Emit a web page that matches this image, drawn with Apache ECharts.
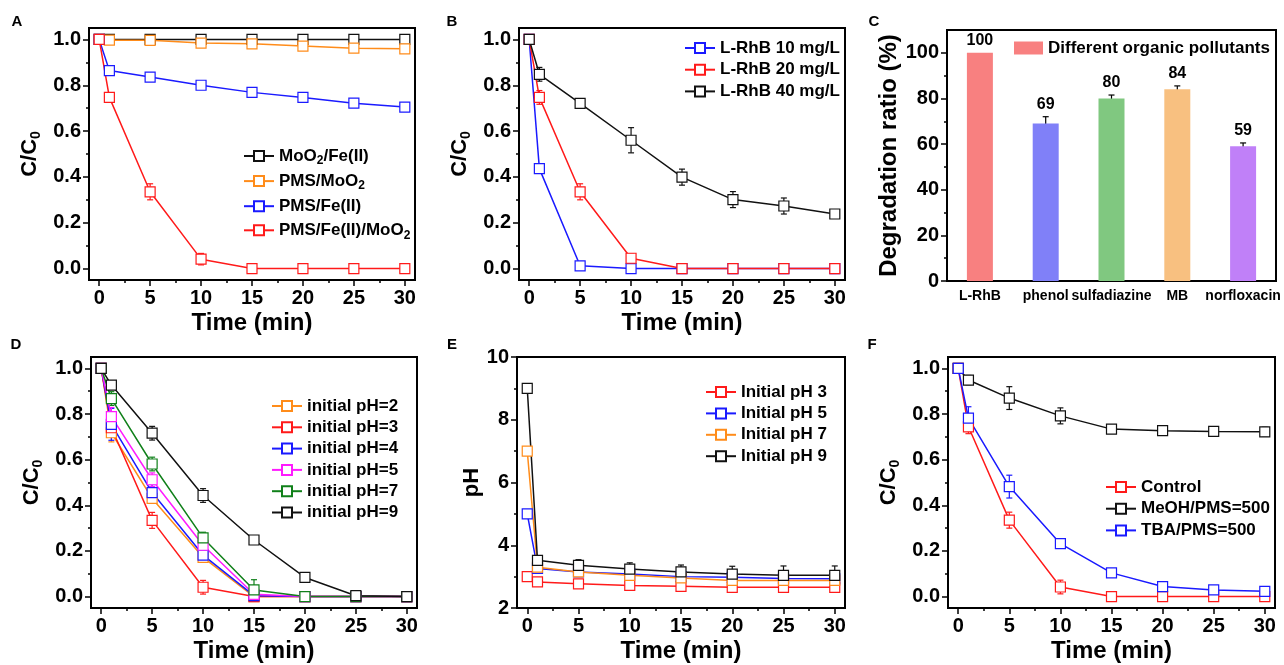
<!DOCTYPE html>
<html>
<head>
<meta charset="utf-8">
<script src="https://cdn.jsdelivr.net/npm/echarts@6/dist/echarts.min.js"></script>
<style>
  html, body { margin: 0; padding: 0; background: #fff; }
  #chart { width: 1284px; height: 665px; }
</style>
</head>
<body>
<div id="chart"></div>
<script>
var FONT = '"Liberation Sans", Arial, sans-serif';

// sampling times (min)
var timeMin = [0, 1, 5, 10, 15, 20, 25, 30];
var xMajors = [0, 5, 10, 15, 20, 25, 30];
var xMinors = [2.5, 7.5, 12.5, 17.5, 22.5, 27.5];
var cMajors = [0, 0.2, 0.4, 0.6, 0.8, 1.0];
var cMinors = [0.1, 0.3, 0.5, 0.7, 0.9];

// A: control experiments
var aMoFe = [1, 1, 1, 1, 1, 1, 1, 1];
var aPmsMo = [1, 0.997, 0.996, 0.984, 0.981, 0.971, 0.962, 0.959];
var aPmsFe = [1, 0.864, 0.836, 0.800, 0.769, 0.747, 0.722, 0.705];
var aPmsFeMo = [1, 0.747, 0.335, 0.041, 0, 0, 0, 0];
var aErrPmsMo = [0, 0.012, 0.012, 0.012, 0.012, 0.012, 0.012, 0.012];
var aErrPmsFe = [0, 0.01, 0.01, 0.012, 0.01, 0.015, 0.01, 0.015];
var aErrPmsFeMo = [0, 0.02, 0.035, 0.025, 0, 0, 0, 0];

// B: L-RhB concentration
var b10 = [1, 0.436, 0.012, 0, 0, 0, 0, 0];
var b20 = [1, 0.747, 0.335, 0.045, 0, 0, 0, 0];
var b40 = [1, 0.848, 0.721, 0.560, 0.399, 0.301, 0.273, 0.238];
var bErr10 = [0, 0.012, 0.008, 0, 0, 0, 0, 0];
var bErr20 = [0, 0.03, 0.035, 0.02, 0, 0, 0, 0];
var bErr40 = [0, 0.03, 0.015, 0.055, 0.035, 0.035, 0.035, 0.015];

// C: different pollutants
var cNames = ['L-RhB', 'phenol', 'sulfadiazine', 'MB', 'norfloxacin'];
var cRatio = [100, 69, 80, 84, 59];
var cErr = [0, 3, 1.5, 1.5, 1.5];
var yMajorsC = [0, 20, 40, 60, 80, 100];
var yMinorsC = [10, 30, 50, 70, 90];

// D: initial pH vs C/C0
var dPh2 = [1, 0.718, 0.430, 0.172, 0, 0, 0, 0];
var dPh3 = [1, 0.740, 0.334, 0.041, 0, 0, 0, 0];
var dPh4 = [1, 0.755, 0.456, 0.182, 0.004, 0, 0, 0];
var dPh5 = [1, 0.789, 0.512, 0.225, 0.01, 0, 0, 0];
var dPh7 = [1, 0.868, 0.581, 0.257, 0.029, 0, 0, 0];
var dPh9 = [1, 0.927, 0.716, 0.443, 0.248, 0.084, 0.004, 0];
var dErr2 = [0, 0.04, 0.02, 0.02, 0, 0, 0, 0];
var dErr3 = [0, 0.02, 0.035, 0.03, 0, 0, 0, 0];
var dErr4 = [0, 0.07, 0.035, 0.02, 0, 0, 0, 0];
var dErr5 = [0, 0.04, 0.03, 0.03, 0, 0, 0, 0];
var dErr7 = [0, 0.03, 0.03, 0.025, 0.045, 0, 0, 0];
var dErr9 = [0, 0.015, 0.03, 0.03, 0.015, 0.015, 0.01, 0];

// E: pH evolution
var yMajorsE = [2, 4, 6, 8, 10];
var yMinorsE = [3, 5, 7, 9];
var ePh3 = [3.0, 2.83, 2.77, 2.72, 2.69, 2.66, 2.66, 2.66];
var ePh5 = [5.0, 3.26, 3.15, 3.08, 3.00, 2.98, 2.94, 2.93];
var ePh7 = [7.0, 3.30, 3.15, 3.04, 2.96, 2.88, 2.88, 2.88];
var ePh9 = [9.0, 3.52, 3.36, 3.24, 3.15, 3.08, 3.04, 3.04];
var eErr3 = [0.08, 0.08, 0.08, 0.08, 0.08, 0.08, 0.08, 0.08];
var eErr5 = [0.08, 0.08, 0.08, 0.08, 0.08, 0.08, 0.08, 0.08];
var eErr7 = [0.1, 0.1, 0.1, 0.1, 0.1, 0.1, 0.15, 0.15];
var eErr9 = [0.1, 0.1, 0.18, 0.2, 0.22, 0.25, 0.3, 0.3];

// F: quenching
var fControl = [1, 0.744, 0.335, 0.042, 0, 0, 0, 0];
var fMeoh = [1, 0.949, 0.870, 0.792, 0.734, 0.727, 0.724, 0.722];
var fTba = [1, 0.782, 0.482, 0.232, 0.104, 0.044, 0.029, 0.023];
var fErrControl = [0, 0.03, 0.035, 0.03, 0, 0, 0, 0];
var fErrMeoh = [0, 0.02, 0.05, 0.035, 0.01, 0.01, 0.01, 0.02];
var fErrTba = [0, 0.05, 0.05, 0.01, 0.015, 0.015, 0.015, 0.01];

var BLACK = '#111', ORANGE = '#FF8C1A', BLUE = '#1A1AFF', RED = '#FF1A1A',
    MAGENTA = '#FF1AFF', GREEN = '#10801A';
var barColors = ['#F88080', '#8080F8', '#80C880', '#F8C080', '#C080F8'];

var grids = [], xAxes = [], yAxes = [], series = [], legends = [];

var boldText = { fontWeight: 'bold', fontFamily: FONT, color: '#000' };
function txt(size, more) {
  return Object.assign({ fontSize: size }, boldText, more || {});
}
var subRich = {
  sub: { fontSize: 12, fontWeight: 'bold', fontFamily: FONT, color: '#000', padding: [10, 0, 0, 0] }
};
var nameSubRich = {
  sub: { fontSize: 14, fontWeight: 'bold', fontFamily: FONT, color: '#000', padding: [12, 0, 0, 0] }
};

function addGrid(left, top, width, height) {
  grids.push({
    left: left, top: top, width: width, height: height,
    show: true, borderColor: '#000', borderWidth: 2, backgroundColor: 'transparent',
    containLabel: false, outerBoundsMode: 'none'
  });
  return grids.length - 1;
}

// major axis (line, labels, long ticks) plus a bare axis for the short minor ticks
function axisPair(list, gi, isX, min, max, majors, minors, digits, extra) {
  var pos = isX ? 'bottom' : 'left';
  var major = Object.assign({
    type: 'value', gridIndex: gi, min: min, max: max, position: pos,
    splitLine: { show: false },
    axisLine: { show: true, onZero: false, lineStyle: { color: '#000', width: 2 } },
    axisTick: { show: true, inside: false, length: 6, customValues: majors,
      lineStyle: { color: '#000', width: 1.5 } },
    axisLabel: Object.assign({ show: true, customValues: majors, margin: 8,
      formatter: function (v) { return Number(v).toFixed(digits); } }, txt(20))
  }, extra || {});
  var minor = {
    type: 'value', gridIndex: gi, min: min, max: max, position: pos,
    splitLine: { show: false },
    axisLine: { show: false, onZero: false },
    axisTick: { show: true, inside: false, length: 3, customValues: minors,
      lineStyle: { color: '#000', width: 1.5 } },
    axisLabel: { show: false }
  };
  list.push(major, minor);
  return list.length - 2;
}

function errSeries(xi, yi, color, xs, ys, es) {
  return {
    type: 'custom', xAxisIndex: xi, yAxisIndex: yi, silent: true, clip: false,
    itemStyle: { color: color }, encode: { x: 0, y: 1 },
    data: xs.map(function (x, i) { return [x, ys[i], es[i]]; }),
    renderItem: function (params, api) {
      var e = api.value(2);
      if (!e) return null;
      var x = api.value(0), y = api.value(1);
      var lo = api.coord([x, y - e]), hi = api.coord([x, y + e]);
      var w = 3, st = { stroke: color, lineWidth: 1.2 };
      return { type: 'group', children: [
        { type: 'line', shape: { x1: lo[0], y1: lo[1], x2: hi[0], y2: hi[1] }, style: st },
        { type: 'line', shape: { x1: lo[0] - w, y1: lo[1], x2: lo[0] + w, y2: lo[1] }, style: st },
        { type: 'line', shape: { x1: hi[0] - w, y1: hi[1], x2: hi[0] + w, y2: hi[1] }, style: st }
      ] };
    }
  };
}

function linePanel(cfg) {
  var gi = addGrid(cfg.grid[0], cfg.grid[1], cfg.grid[2], cfg.grid[3]);
  var xi = axisPair(xAxes, gi, true, -1, 31, xMajors, xMinors, 0, {
    name: 'Time (min)', nameLocation: 'middle', nameGap: 31, nameTextStyle: txt(24)
  });
  var yi = axisPair(yAxes, gi, false, cfg.yRange[0], cfg.yRange[1], cfg.yMajors, cfg.yMinors, cfg.yDigits, {
    name: cfg.yName, nameLocation: 'middle', nameGap: cfg.yNameGap,
    nameTextStyle: txt(22, { rich: nameSubRich })
  });
  cfg.lines.forEach(function (ln) {
    series.push({
      type: 'line', name: ln.name, xAxisIndex: xi, yAxisIndex: yi,
      data: timeMin.map(function (t, i) { return [t, ln.ys[i]]; }),
      symbol: 'rect', symbolSize: 10, showAllSymbol: true,
      lineStyle: { color: ln.color, width: 1.5 },
      itemStyle: { color: '#fff', borderColor: ln.color, borderWidth: 1.2 },
      emphasis: { disabled: true }
    });
    if (ln.err) series.push(errSeries(xi, yi, ln.color, timeMin, ln.ys, ln.err));
  });
  legends.push({
    left: cfg.legend[0], top: cfg.legend[1], orient: 'vertical', padding: 0,
    itemWidth: 30, itemHeight: 12.5, itemGap: cfg.legend[2], selectedMode: false,
    data: cfg.lines.map(function (l) { return l.name; }),
    formatter: cfg.legendFmt || function (n) { return n; },
    textStyle: txt(17, { lineHeight: 20, rich: subRich })
  });
}

// A
linePanel({
  grid: [89, 28, 326, 252], yRange: [-0.05, 1.05], yMajors: cMajors, yMinors: cMinors, yDigits: 1,
  yName: 'C/C{sub|0}', yNameGap: 46,
  legend: [243, 146, 4.1],
  legendFmt: function (n) {
    return n.replace('MoO2', 'MoO{sub|2}');
  },
  lines: [
    { name: 'MoO2/Fe(II)', color: BLACK, ys: aMoFe },
    { name: 'PMS/MoO2', color: ORANGE, ys: aPmsMo, err: aErrPmsMo },
    { name: 'PMS/Fe(II)', color: BLUE, ys: aPmsFe, err: aErrPmsFe },
    { name: 'PMS/Fe(II)/MoO2', color: RED, ys: aPmsFeMo, err: aErrPmsFeMo }
  ]
});

// B
linePanel({
  grid: [519, 28, 326, 252], yRange: [-0.05, 1.05], yMajors: cMajors, yMinors: cMinors, yDigits: 1,
  yName: 'C/C{sub|0}', yNameGap: 46,
  legend: [684, 38, 1.7],
  lines: [
    { name: 'L-RhB 10 mg/L', color: BLUE, ys: b10, err: bErr10 },
    { name: 'L-RhB 20 mg/L', color: RED, ys: b20, err: bErr20 },
    { name: 'L-RhB 40 mg/L', color: BLACK, ys: b40, err: bErr40 }
  ]
});

// C
(function () {
  var gi = addGrid(947, 30, 329, 251);
  xAxes.push({
    type: 'category', gridIndex: gi, data: cNames, position: 'bottom',
    axisLine: { show: true, onZero: false, lineStyle: { color: '#000', width: 2 } },
    axisTick: { show: false },
    axisLabel: Object.assign({ interval: 0, margin: 8 }, txt(14)),
    splitLine: { show: false }
  });
  var xi = xAxes.length - 1;
  var yi = axisPair(yAxes, gi, false, 0, 110, yMajorsC, yMinorsC, 0, {
    name: 'Degradation ratio (%)', nameLocation: 'middle', nameGap: 45, nameTextStyle: txt(24)
  });
  series.push({
    type: 'bar', name: 'Different organic pollutants', xAxisIndex: xi, yAxisIndex: yi,
    barWidth: 26, itemStyle: { color: barColors[0] },
    data: cRatio.map(function (v, i) { return { value: v, itemStyle: { color: barColors[i] } }; }),
    emphasis: { disabled: true }
  });
  series.push({
    type: 'custom', xAxisIndex: xi, yAxisIndex: yi, silent: true, clip: false,
    encode: { x: 0, y: 1 },
    data: cRatio.map(function (v, i) { return [i, v, cErr[i]]; }),
    renderItem: function (params, api) {
      var i = api.value(0), v = api.value(1), e = api.value(2);
      var lo = api.coord([i, v - e]), hi = api.coord([i, v + e]);
      var st = { stroke: '#000', lineWidth: 1.2 }, w = 3;
      var kids = [];
      if (e) {
        kids.push(
          { type: 'line', shape: { x1: lo[0], y1: lo[1], x2: hi[0], y2: hi[1] }, style: st },
          { type: 'line', shape: { x1: lo[0] - w, y1: lo[1], x2: lo[0] + w, y2: lo[1] }, style: st },
          { type: 'line', shape: { x1: hi[0] - w, y1: hi[1], x2: hi[0] + w, y2: hi[1] }, style: st }
        );
      }
      kids.push({
        type: 'text', x: hi[0], y: hi[1] - 4,
        style: { text: String(v), textAlign: 'center', textVerticalAlign: 'bottom',
          font: 'bold 16px ' + FONT, fill: '#000' }
      });
      return { type: 'group', children: kids };
    }
  });
  legends.push({
    left: 1014, top: 38, orient: 'vertical', padding: 0, icon: 'rect',
    itemWidth: 29, itemHeight: 13, selectedMode: false,
    data: ['Different organic pollutants'],
    textStyle: txt(17, { lineHeight: 20 })
  });
})();

// D
linePanel({
  grid: [91, 357, 326, 251], yRange: [-0.05, 1.05], yMajors: cMajors, yMinors: cMinors, yDigits: 1,
  yName: 'C/C{sub|0}', yNameGap: 46,
  legend: [271, 396, 1.3],
  lines: [
    { name: 'initial pH=2', color: ORANGE, ys: dPh2, err: dErr2 },
    { name: 'initial pH=3', color: RED, ys: dPh3, err: dErr3 },
    { name: 'initial pH=4', color: BLUE, ys: dPh4, err: dErr4 },
    { name: 'initial pH=5', color: MAGENTA, ys: dPh5, err: dErr5 },
    { name: 'initial pH=7', color: GREEN, ys: dPh7, err: dErr7 },
    { name: 'initial pH=9', color: BLACK, ys: dPh9, err: dErr9 }
  ]
});

// E
linePanel({
  grid: [517, 357, 328, 251], yRange: [2, 10], yMajors: yMajorsE, yMinors: yMinorsE, yDigits: 0,
  yName: 'pH', yNameGap: 25,
  legend: [705, 382, 1.4],
  lines: [
    { name: 'Initial pH 3', color: RED, ys: ePh3, err: eErr3 },
    { name: 'Initial pH 5', color: BLUE, ys: ePh5, err: eErr5 },
    { name: 'Initial pH 7', color: ORANGE, ys: ePh7, err: eErr7 },
    { name: 'Initial pH 9', color: BLACK, ys: ePh9, err: eErr9 }
  ]
});

// F
linePanel({
  grid: [948, 357, 327, 251], yRange: [-0.05, 1.05], yMajors: cMajors, yMinors: cMinors, yDigits: 1,
  yName: 'C/C{sub|0}', yNameGap: 46,
  legend: [1105, 477, 1.7],
  lines: [
    { name: 'Control', color: RED, ys: fControl, err: fErrControl },
    { name: 'MeOH/PMS=500', color: BLACK, ys: fMeoh, err: fErrMeoh },
    { name: 'TBA/PMS=500', color: BLUE, ys: fTba, err: fErrTba }
  ]
});

// panel letters
var letters = [['A', 17, 22], ['B', 452, 22], ['C', 874, 22], ['D', 16, 345], ['E', 452, 345], ['F', 872, 345]];

var chart = echarts.init(document.getElementById('chart'));
chart.setOption({
  animation: false,
  backgroundColor: '#fff',
  grid: grids,
  xAxis: xAxes,
  yAxis: yAxes,
  legend: legends,
  series: series,
  graphic: letters.map(function (l) {
    return {
      type: 'text', x: l[1], y: l[2], silent: true,
      style: { text: l[0], textAlign: 'center', textVerticalAlign: 'middle',
        font: 'bold 15px ' + FONT, fill: '#000' }
    };
  })
});
</script>
</body>
</html>
